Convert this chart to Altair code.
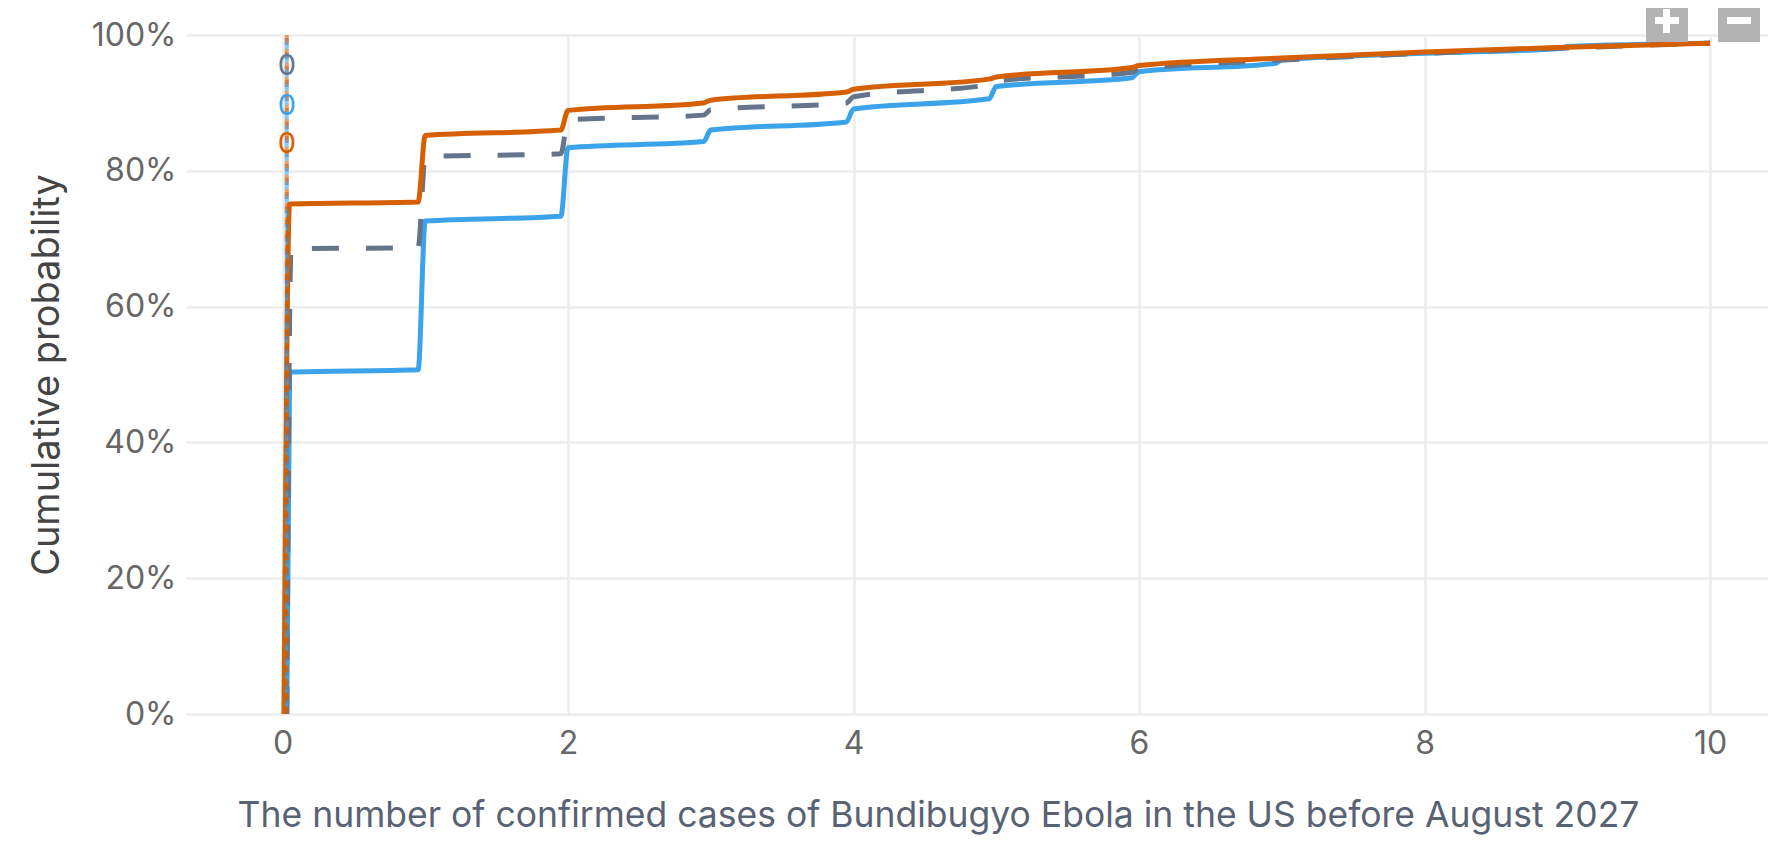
import altair as alt
import pandas as pd

# ---------------- data ----------------
x_ticks = [0, 2, 4, 6, 8, 10]
y_ticks = [0, 0.2, 0.4, 0.6, 0.8, 1.0]

series_names = ["Forecast A", "Forecast B", "Forecast C"]
series_colors = ["#d65f00", "#3aa3ea", "#64748b"]

# Forecast A (orange)
a_x = [0.01, 0.05, 0.95, 1.0, 1.95, 2.0, 2.95, 3.0, 3.95, 4.0, 4.95, 5.0, 5.95, 6.0, 7.0, 8.0, 9.0, 10.0]
a_y = [0.0, 0.751, 0.754, 0.852, 0.860, 0.889, 0.900, 0.904, 0.916, 0.920, 0.935, 0.938, 0.952, 0.955, 0.966, 0.975, 0.982, 0.988]

# Forecast B (blue)
b_x = [0.03, 0.05, 0.95, 1.0, 1.95, 2.0, 2.95, 3.0, 3.95, 4.0, 4.95, 5.0, 5.95, 6.0, 6.95, 7.0, 8.0, 8.95, 9.0, 10.0]
b_y = [0.0, 0.5035, 0.507, 0.726, 0.733, 0.834, 0.843, 0.860, 0.872, 0.891, 0.906, 0.924, 0.937, 0.946, 0.958, 0.963, 0.973, 0.980, 0.983, 0.988]

# Forecast C (grey, dashed)
c_x = [0.03, 0.06, 0.95, 1.0, 1.95, 2.0, 2.95, 3.0, 3.95, 4.0, 4.95, 5.0, 5.95, 6.0, 7.0, 8.0, 9.0, 10.0]
c_y = [0.0, 0.685, 0.687, 0.821, 0.825, 0.875, 0.882, 0.890, 0.900, 0.909, 0.927, 0.932, 0.945, 0.950, 0.963, 0.973, 0.981, 0.988]

# median markers
median_series = ["Forecast C", "Forecast B", "Forecast A"]
median_x = [0.03, 0.03, 0.03]
median_text = ["0", "0", "0"]
median_label_y = [0.954, 0.895, 0.839]
rule_low = [0.0, 0.0, 0.0]
rule_high = [1.0, 1.0, 1.0]

x_title = "The number of confirmed cases of Bundibugyo Ebola in the US before August 2027"
y_title = "Cumulative probability"

# ---------------- frames ----------------
lines = pd.concat([
    pd.DataFrame({"x": a_x, "y": a_y, "series": series_names[0]}),
    pd.DataFrame({"x": b_x, "y": b_y, "series": series_names[1]}),
    pd.DataFrame({"x": c_x, "y": c_y, "series": series_names[2]}),
], ignore_index=True)

medians = pd.DataFrame({
    "series": median_series, "x": median_x, "label": median_text,
    "y": median_label_y, "lo": rule_low, "hi": rule_high,
})

color = alt.Color("series:N", scale=alt.Scale(domain=series_names, range=series_colors), legend=None)

xscale = alt.Scale(domain=[-0.676, 10.406], nice=False, zero=False)
yscale = alt.Scale(domain=[0, 1], nice=False)

x_axis = alt.Axis(values=x_ticks, format="d", title=x_title, grid=True,
                  labelFontSize=32, labelColor="#666666", labelPadding=39,
                  labelBaseline="alphabetic", labelFlush=False,
                  titleFontSize=35.5, titleColor="#596273", titleFontWeight="normal",
                  titleX=752, titleY=112, titleBaseline="alphabetic", titleAnchor="middle")
y_axis = alt.Axis(values=y_ticks, format=".0%", title=y_title, grid=True,
                  labelFontSize=32, labelColor="#666666", labelPadding=10,
                  labelFlush=False,
                  titleFontSize=38, titleColor="#444444", titleFontWeight="normal",
                  titleX=-120, titleBaseline="bottom")

base = alt.Chart(lines)

blue_line = base.transform_filter(alt.datum.series == "Forecast B").mark_line(
    strokeWidth=5, interpolate="monotone", strokeJoin="round"
).encode(x=alt.X("x:Q", scale=xscale, axis=x_axis),
         y=alt.Y("y:Q", scale=yscale, axis=y_axis), color=color)

dashed = base.transform_filter(alt.datum.series == "Forecast C").mark_line(
    strokeWidth=5, interpolate="monotone", strokeDash=[27, 27]
).encode(x=alt.X("x:Q", scale=xscale), y=alt.Y("y:Q", scale=yscale), color=color)

orange_line = base.transform_filter(alt.datum.series == "Forecast A").mark_line(
    strokeWidth=5, interpolate="monotone", strokeJoin="round"
).encode(x=alt.X("x:Q", scale=xscale), y=alt.Y("y:Q", scale=yscale), color=color)

mbase = alt.Chart(medians)
rule_b = mbase.transform_filter(alt.datum.series == "Forecast B").mark_rule(
    strokeWidth=4, strokeDash=[7, 7], strokeDashOffset=7, opacity=0.6).encode(
    x=alt.X("x:Q", scale=xscale), y=alt.Y("lo:Q", scale=yscale), y2="hi:Q", color=color)
rule_c = mbase.transform_filter(alt.datum.series == "Forecast C").mark_rule(
    strokeWidth=4, strokeDash=[7, 7], strokeDashOffset=3, opacity=0.5).encode(
    x=alt.X("x:Q", scale=xscale), y=alt.Y("lo:Q", scale=yscale), y2="hi:Q", color=color)
rule_a = mbase.transform_filter(alt.datum.series == "Forecast A").mark_rule(
    strokeWidth=4, strokeDash=[7, 7], strokeDashOffset=0, opacity=0.6).encode(
    x=alt.X("x:Q", scale=xscale), y=alt.Y("lo:Q", scale=yscale), y2="hi:Q", color=color)
labels = mbase.mark_text(fontSize=29, align="center", baseline="middle").encode(
    x=alt.X("x:Q", scale=xscale), y=alt.Y("y:Q", scale=yscale), text="label:N", color=color
)

# zoom buttons (decoration)
btn_df = pd.DataFrame({"k": [1]})
bb = alt.Chart(btn_df)
btn_color = "#b3b3b3"
plus_box = bb.mark_rect(color=btn_color).encode(x=alt.value(1460), x2=alt.value(1502), y=alt.value(-27), y2=alt.value(7))
plus_h = bb.mark_rect(color="white").encode(x=alt.value(1469), x2=alt.value(1493), y=alt.value(-18), y2=alt.value(-11))
plus_v = bb.mark_rect(color="white").encode(x=alt.value(1477), x2=alt.value(1484), y=alt.value(-26), y2=alt.value(-2))
minus_box = bb.mark_rect(color=btn_color).encode(x=alt.value(1532), x2=alt.value(1574), y=alt.value(-27), y2=alt.value(7))
minus_h = bb.mark_rect(color="white").encode(x=alt.value(1541), x2=alt.value(1565), y=alt.value(-18), y2=alt.value(-11))

chart = alt.layer(
    blue_line, dashed, orange_line, rule_b, rule_c, rule_a, labels,
    plus_box, plus_h, plus_v, minus_box, minus_h,
).properties(
    width=1582, height=679,
    padding={"left": 178, "top": 27, "right": 0, "bottom": 125},
    autosize=alt.AutoSizeParams(type="none"),
    background="white",
).configure(font="Inter").configure_axis(
    domain=False, ticks=False, tickSize=0,
    gridColor="#ececec", gridWidth=2.5,
).configure_view(stroke=None)

chart.save("out.html", embed_options={"renderer": "svg", "actions": False})
